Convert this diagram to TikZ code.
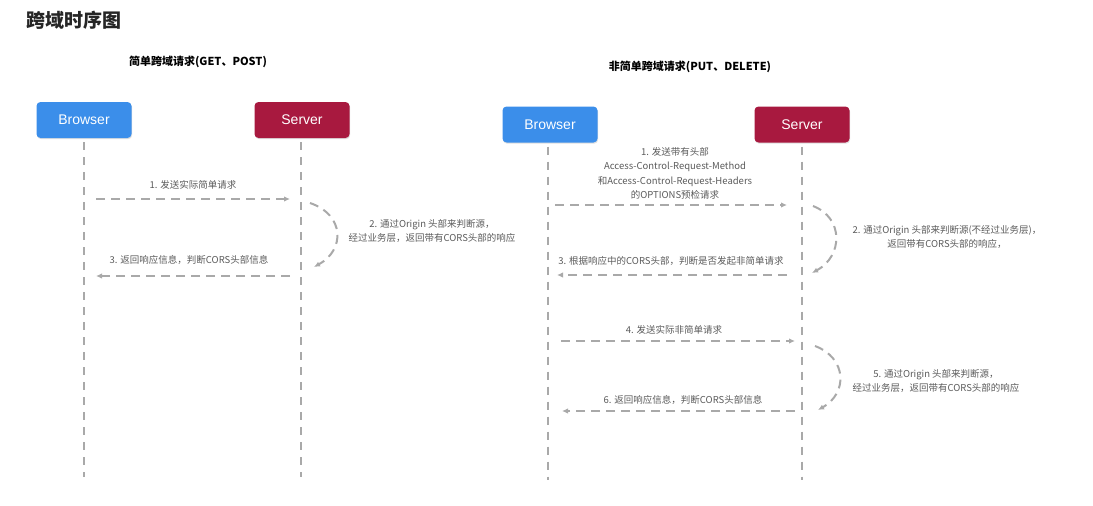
\documentclass[tikz,border=0pt]{standalone}
\usepackage{fontspec}
\setmainfont{Noto Sans CJK SC}
\newfontfamily\boxfont{Liberation Sans}
\usetikzlibrary{arrows.meta,shadows}

\definecolor{browserblue}{HTML}{3B8EEA}
\definecolor{serverred}{HTML}{A8193F}
\definecolor{linegray}{HTML}{A9A9A9}
\definecolor{textgray}{HTML}{5A5A5A}

\tikzset{
  actor/.style={rounded corners=4pt, minimum width=95pt, minimum height=36pt,
                text=white, font=\boxfont\fontsize{14}{16}\selectfont,
                drop shadow={opacity=0.25, shadow xshift=0.6pt, shadow yshift=-1.2pt}},
  lifeline/.style={draw=linegray, line width=1.6pt, dash pattern=on 8pt off 7pt},
  message/.style={draw=linegray, line width=2pt, dash pattern=on 9pt off 6pt,
                  -{Latex[length=6pt,width=5.5pt]}},
  msglabel/.style={text=textgray, font=\fontsize{9.5}{14.5}\selectfont,
                   align=center, inner sep=0pt},
  heading/.style={font=\fontsize{11}{13}\selectfont\bfseries, inner sep=0pt}
}

\begin{document}
\begin{tikzpicture}[x=1pt, y=-1pt]
  \useasboundingbox (0,0) rectangle (1093,506);
  \path node (title) at (74,20.5) [inner sep=0pt, text=black!85,
                                   font=\fontsize{19}{22}\selectfont\bfseries] {跨域时序图}
        node (simpleHead)  at (198,62) [heading] {简单跨域请求(GET、POST)}
        node (complexHead) at (690,67) [heading] {非简单跨域请求(PUT、DELETE)}
        %
        node (browserA) at (84,120)   [actor, fill=browserblue] {Browser}
        node (serverA)  at (302,120)  [actor, fill=serverred]   {Server}
        node (browserB) at (550,124.5)[actor, fill=browserblue] {Browser}
        node (serverB)  at (802,124.5)[actor, fill=serverred]   {Server};
  % lifeline ends
  \coordinate (browserA-end) at (84,477);
  \coordinate (serverA-end)  at (301,477);
  \coordinate (browserB-end) at (548,480);
  \coordinate (serverB-end)  at (802,480);
  \draw[lifeline] ([shift={(0,4)}]browserA.south) -- (browserA-end);
  \draw[lifeline] ([shift={(-1,4)}]serverA.south) -- (serverA-end);
  \draw[lifeline] ([shift={(-2,4)}]browserB.south) -- (browserB-end);
  \draw[lifeline] ([shift={(0,4)}]serverB.south) -- (serverB-end);
  %
  % simple request
  \coordinate (sA1) at (96,199);  \coordinate (sA2) at (290,199);
  \coordinate (sA3) at (310,203); \coordinate (sA4) at (314,267);
  \coordinate (sA5) at (290,276); \coordinate (sA6) at (96,276);
  \draw[message] (sA1) -- (sA2);
  \draw[message] (sA3) .. controls +(35,12) and +(31,-17) .. (sA4);
  \draw[message] (sA5) -- (sA6);
  \path node (sendA)   at (193,185) [msglabel] {1. 发送实际简单请求}
        node (checkA)  at (432,231) [msglabel] {2. 通过Origin 头部来判断源，\\经过业务层，返回带有CORS头部的响应}
        node (returnA) at (189,260) [msglabel] {3. 返回响应信息，判断CORS头部信息};
  %
  % preflighted request
  \coordinate (cB1) at (555,205);  \coordinate (cB2) at (787,205);
  \coordinate (cB3) at (813,206);  \coordinate (cB4) at (812,273);
  \coordinate (cB5) at (787,275);  \coordinate (cB6) at (557,275);
  \coordinate (cB7) at (561,341);  \coordinate (cB8) at (795,341);
  \coordinate (cB9) at (815,346);  \coordinate (cB10) at (818,410);
  \coordinate (cB11) at (795,411); \coordinate (cB12) at (562,411);
  \draw[message] (cB1) -- (cB2);
  \draw[message] (cB3) .. controls +(31,12) and +(31,-17) .. (cB4);
  \draw[message] (cB5) -- (cB6);
  \draw[message] (cB7) -- (cB8);
  \draw[message] (cB9) .. controls +(32,12) and +(30,-17) .. (cB10);
  \draw[message] (cB11) -- (cB12);
  \path node (preflightB) at (675,173.5) [msglabel] {1. 发送带有头部\\Access-Control-Request-Method\\和Access-Control-Request-Headers\\的OPTIONS预检请求}
        node (checkB)   at (947,237) [msglabel] {2. 通过Origin 头部来判断源(不经过业务层)，\\返回带有CORS头部的响应，}
        node (decideB)  at (671,261) [msglabel] {3. 根据响应中的CORS头部，判断是否发起非简单请求}
        node (sendB)    at (674,330) [msglabel] {4. 发送实际非简单请求}
        node (handleB)  at (936,381) [msglabel] {5. 通过Origin 头部来判断源，\\经过业务层，返回带有CORS头部的响应}
        node (returnB)  at (683,400) [msglabel] {6. 返回响应信息，判断CORS头部信息};
\end{tikzpicture}
\end{document}
